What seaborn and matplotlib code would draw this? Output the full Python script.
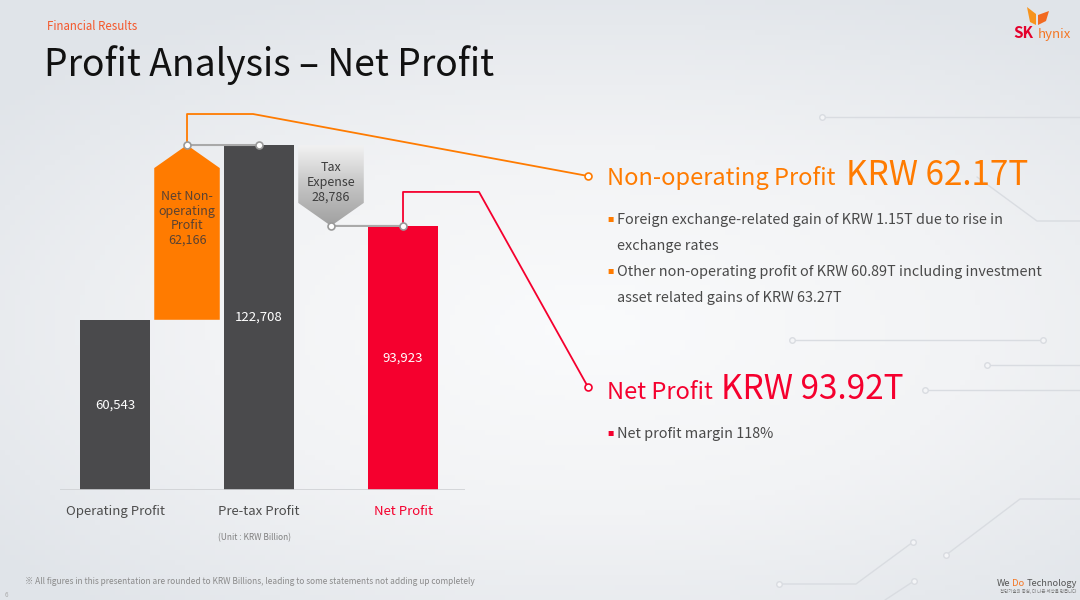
import numpy as np
import pandas as pd
import matplotlib
matplotlib.use('Agg')
import matplotlib.pyplot as plt
from matplotlib.patches import Polygon
from matplotlib.colors import LinearSegmentedColormap
import seaborn as sns

# waterfall steps (KRW Billion)
steps = ['Operating Profit', 'Net Non-operating Profit', 'Pre-tax Profit', 'Tax Expense', 'Net Profit']
step_kind = ['total', 'delta', 'total', 'delta', 'total']
step_values = [60543, 62166, 122708, -28786, 93923]
value_labels = ['60,543', 'Net Non-\noperating\nProfit\n62,166', '122,708', 'Tax\nExpense\n28,786', '93,923']
tick_labels = ['Operating Profit', 'Pre-tax Profit', 'Net Profit']

# right-hand commentary
nonop_head = ['Non-operating Profit', 'KRW 62.17T']
nonop_bullets = ['Foreign exchange-related gain of KRW 1.15T due to rise in',
                 'exchange rates',
                 'Other non-operating profit of KRW 60.89T including investment',
                 'asset related gains of KRW 63.27T']
net_head = ['Net Profit', 'KRW 93.92T']
net_bullets = ['Net profit margin 118%']

DARK = '#4a4a4c'
ORANGE = '#ff7b00'
RED = '#f5002e'
TXT = '#4a4a4a'

sns.set_theme(style='white')
plt.rcParams['font.family'] = ['Noto Sans CJK KR', 'DejaVu Sans']

fig = plt.figure(figsize=(10.8, 6), dpi=100)

# ---- background: soft gradient + circuit lines
bg = fig.add_axes([0, 0, 1, 1], zorder=0)
bg.set_xlim(0, 1080)
bg.set_ylim(600, 0)
bg.axis('off')
gx, gy = np.meshgrid(np.linspace(0, 1, 216), np.linspace(0, 1, 120))
d = np.clip(np.sqrt(((gx - 0.55) / 0.72) ** 2 + ((gy - 0.55) / 0.62) ** 2), 0, 1)
bg_cmap = LinearSegmentedColormap.from_list('bg', ['#fafbfc', '#f2f3f5', '#e0e4e9'])
bg.imshow(d, cmap=bg_cmap, extent=[0, 1080, 600, 0], aspect='auto', vmin=0, vmax=1)

deco = '#d9dce1'
circuit = [
    ([822, 1080], [117, 117]),
    ([977, 1037, 1080], [177, 221, 221]),
    ([792, 1043], [340, 340]),
    ([987, 1080], [365, 365]),
    ([925, 1080], [390, 390]),
    ([946, 1020, 1080], [555, 499, 499]),
    ([913, 856, 779], [542, 584, 584]),
    ([914, 885], [581, 600]),
]
for xs, ys in circuit:
    bg.plot(xs, ys, color=deco, lw=1)
for cx, cy in [(822, 117), (792, 340), (1043, 340), (987, 365), (925, 390), (946, 555), (913, 542), (779, 584), (914, 581)]:
    bg.plot(cx, cy, 'o', ms=4, mfc='#f4f5f7', mec=deco, mew=1)

# ---- waterfall chart
ax = fig.add_axes([60 / 1080, 110 / 600, 405 / 1080, 393.6 / 600], zorder=1)
ax.set_facecolor('none')

totals = pd.DataFrame({'step': [s for s, k in zip(steps, step_kind) if k == 'total'],
                       'value': [v for v, k in zip(step_values, step_kind) if k == 'total']})
palette = {'Operating Profit': DARK, 'Pre-tax Profit': DARK, 'Net Profit': RED}
sns.barplot(data=totals, x='step', y='value', hue='step', order=steps, palette=palette,
            width=0.98, saturation=1, legend=False, linewidth=0, ax=ax)

# floating steps as arrow-shaped boxes
running = 0
arrow_h = 8200
w = 0.91
delta_geo = {}
for i, (k, v) in enumerate(zip(step_kind, step_values)):
    if k == 'total':
        running = v
        continue
    lo, hi = running, running + v
    if v > 0:
        pts = [(i - w / 2, lo), (i + w / 2, lo), (i + w / 2, hi - arrow_h), (i, hi), (i - w / 2, hi - arrow_h)]
        ax.add_patch(Polygon(pts, closed=True, facecolor=ORANGE, edgecolor='none', zorder=2))
        delta_geo[i] = (hi, hi - 0.42 * v)
    else:
        pts = [(i - w / 2, lo), (i + w / 2, lo), (i + w / 2, hi + arrow_h), (i, hi), (i - w / 2, hi + arrow_h)]
        poly = Polygon(pts, closed=True, facecolor='none', edgecolor='none', zorder=2)
        ax.add_patch(poly)
        grad = np.linspace(0, 1, 100).reshape(-1, 1)
        gcm = LinearSegmentedColormap.from_list('tax', ['#a0a0a0', '#c4c4c4', '#f2f2f2'])
        im = ax.imshow(grad, cmap=gcm, extent=[i - w / 2, i + w / 2, hi, lo], origin='lower',
                       aspect='auto', zorder=2)
        im.set_clip_path(poly)
        delta_geo[i] = (hi, lo + 0.46 * v)
    running = hi

# value labels
for i, (k, v, lab) in enumerate(zip(step_kind, step_values, value_labels)):
    if k == 'total':
        ax.text(i, v / 2, lab, ha='center', va='center', color='white', fontsize=9.5, zorder=4)
    else:
        col = '#5a4232' if v > 0 else '#3c3c3c'
        ax.text(i, delta_geo[i][1], lab, ha='center', va='center', color=col, fontsize=9,
                multialignment='center', linespacing=1.15, zorder=4)

ax.set_xlim(-0.764, 4.861)
ax.set_ylim(0, 140000)
ax.set_yticks([])
ax.set_xlabel('')
ax.set_ylabel('')
sns.despine(ax=ax, left=True, top=True, right=True, bottom=True)
ax.axhline(0, color='#cfd1d4', lw=1.2, zorder=3)
tot_pos = [i for i, k in enumerate(step_kind) if k == 'total']
ax.set_xticks(tot_pos)
ax.set_xticklabels(tick_labels, fontsize=9.5, color='#4d4d4d')
ax.tick_params(axis='x', length=0, pad=11)
ax.get_xticklabels()[-1].set_color(RED)

# ---- overlay in pixel coordinates
ov = fig.add_axes([0, 0, 1, 1], zorder=3)
ov.set_facecolor('none')
ov.set_xlim(0, 1080)
ov.set_ylim(600, 0)
ov.axis('off')


def to_px(x, y):
    return ov.transData.inverted().transform(ax.transData.transform((x, y)))


# grey connectors between steps
conn = '#a9a9a9'
p_peak = to_px(1, step_values[0] + step_values[1])
p_pre = to_px(2, step_values[2])
p_tip = to_px(3, step_values[2] + step_values[3])
p_net = to_px(4, step_values[4])
for a, b in [(p_peak, p_pre), (p_tip, p_net)]:
    ov.plot([a[0], b[0]], [a[1], b[1]], color=conn, lw=1.5, zorder=1)
    ov.plot([a[0], b[0]], [a[1], b[1]], 'o', ms=5, mfc='white', mec='#9a9a9a', mew=1.2, zorder=2)

# leader lines to commentary
ov.plot([p_peak[0], p_peak[0], p_peak[0] + 66, 588], [p_peak[1], p_peak[1] - 31, p_peak[1] - 31, 176],
        color=ORANGE, lw=1.3, zorder=1)
ov.plot(588, 176, 'o', ms=5, mfc='white', mec=ORANGE, mew=1.2)
ov.plot([p_net[0], p_net[0], p_net[0] + 76, 588], [p_net[1], p_net[1] - 34, p_net[1] - 34, 387],
        color=RED, lw=1.3, zorder=1)
ov.plot(588, 387, 'o', ms=5, mfc='white', mec=RED, mew=1.2)

# commentary text
ov.text(607, 185, nonop_head[0], color=ORANGE, fontsize=17, va='baseline')
ov.text(846, 185, nonop_head[1], color=ORANGE, fontsize=24, va='baseline')
for j, line in enumerate(nonop_bullets):
    yb = 224 + 26 * j
    ov.text(617, yb, line, color=TXT, fontsize=10.4, va='baseline')
    if j % 2 == 0:
        ov.text(607, yb - 4, '■', color=ORANGE, fontsize=4.5, va='center')
ov.text(607, 399, net_head[0], color=RED, fontsize=17, va='baseline')
ov.text(721, 399, net_head[1], color=RED, fontsize=24, va='baseline')
for j, line in enumerate(net_bullets):
    ov.text(617, 438, line, color=TXT, fontsize=10.4, va='baseline')
    ov.text(607, 434, '■', color=RED, fontsize=4.5, va='center')

ov.text(254, 538, '(Unit : KRW Billion)', color='#808080', fontsize=6, ha='center', va='center')

# header
ov.text(47, 30, 'Financial Results', color='#f4582c', fontsize=8.3, va='baseline')
ov.text(44, 76, 'Profit Analysis – Net Profit', color='#111111', fontsize=26.8, va='baseline')

# logo
ov.add_patch(Polygon([(1027, 7), (1036, 14), (1036, 25), (1030, 22)], closed=True, facecolor='#f7941d', edgecolor='none'))
ov.add_patch(Polygon([(1049, 11), (1038, 15), (1038, 25), (1046, 21)], closed=True, facecolor='#f26a21', edgecolor='none'))
ov.text(1013, 38, 'SK', color='#e4002b', fontsize=11, fontweight='bold', va='baseline')
ov.text(1038, 38, 'hynix', color='#f47725', fontsize=9.5, va='baseline')

# footer
ov.text(25, 584, '※ All figures in this presentation are rounded to KRW Billions, leading to some statements not adding up completely',
        color='#8a8a8a', fontsize=6.0, va='baseline')
ov.text(5, 597, '6', color='#aaaaaa', fontsize=4.5, va='baseline')
ov.text(997, 586, 'We', color='#555555', fontsize=6.8, va='baseline')
ov.text(1012, 586, 'Do', color='#f47725', fontsize=6.8, va='baseline')
ov.text(1027, 586, 'Technology', color='#555555', fontsize=6.6, va='baseline')
ov.text(1038, 593, '첨단기술의 중심, 더 나은 세상을 만듭니다', color='#777777', fontsize=3.2, ha='center', va='baseline')

fig.savefig('out.png', dpi=100)
